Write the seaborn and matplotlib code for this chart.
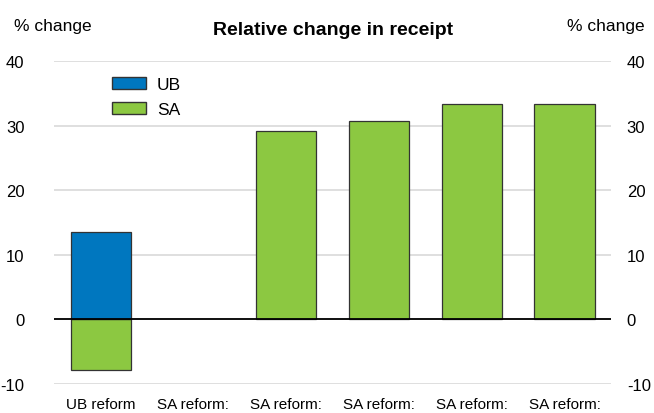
import pandas as pd
import numpy as np
import seaborn as sns
from matplotlib import pyplot as plt
from matplotlib.patches import Patch

# Data
categories = ['UB reform', 'SA reform: ', 'SA reform:  ', 'SA reform:   ', 'SA reform:    ', 'SA reform:     ']
tick_labels = ['UB reform', 'SA reform:', 'SA reform:', 'SA reform:', 'SA reform:', 'SA reform:']
ub_values = [13.5, 0, 0, 0, 0, 0]
sa_values = [-7.8, 0, 29.1, 30.7, 33.3, 33.3]

ub_color = '#0077BF'
sa_color = '#8CC841'

df = pd.DataFrame({'cat': categories, 'UB': ub_values, 'SA': sa_values})
# zero means no bar at all
df = df.replace(0, np.nan)

sns.set_style('white')
plt.rcParams['font.family'] = ['Liberation Sans', 'DejaVu Sans']
plt.rcParams['text.color'] = 'black'
plt.rcParams['xtick.color'] = 'black'
plt.rcParams['ytick.color'] = 'black'

fig = plt.figure(figsize=(6.54, 4.14), dpi=100)
ax = fig.add_axes([0.083, 0.07, 0.851, 0.78])

# bars: SA and UB share positions (stacked, signs never collide)
sns.barplot(x='cat', y='SA', data=df, color=sa_color, width=0.65, order=categories,
            edgecolor='#333333', linewidth=0.9, saturation=1, ax=ax)
sns.barplot(x='cat', y='UB', data=df, color=ub_color, width=0.65, order=categories,
            edgecolor='#333333', linewidth=0.9, saturation=1, ax=ax)

ax.set_ylim(-10, 40)
ax.set_xlim(-0.5, 5.5)
ax.set_yticks([-10, 0, 10, 20, 30, 40])
ax.set_yticklabels(['-10', '0', '10', '20', '30', '40'])
ax.yaxis.grid(True, color='#d9d9d9', linewidth=1.2)
ax.set_axisbelow(True)
ax.axhline(0, color='black', linewidth=1.3, zorder=5)
for s in ax.spines.values():
    s.set_visible(False)
ax.set_xticks(range(len(categories)))
ax.set_xticklabels(tick_labels, fontsize=11)
ax.set_xlabel('')
ax.set_ylabel('')

# right hand labels
ax2 = ax.twinx()
ax2.set_ylim(ax.get_ylim())
ax2.set_yticks([-10, 0, 10, 20, 30, 40])
ax2.set_yticklabels(['-10', '0', '10', '20', '30', '40'])
ax2.tick_params(axis='y', labelsize=12, right=False, pad=8)
for s in ax2.spines.values():
    s.set_visible(False)

ax.tick_params(axis='y', labelsize=12, left=False, right=False, pad=18)
ax.tick_params(axis='x', bottom=False, pad=6)

fig.text(0.022, 0.925, '% change', fontsize=12.5)
fig.text(0.985, 0.925, '% change', fontsize=12.5, ha='right')
fig.text(0.51, 0.915, 'Relative change in receipt', fontsize=14, fontweight='bold', ha='center')

handles = [Patch(facecolor=ub_color, edgecolor='#333333', label='UB'),
           Patch(facecolor=sa_color, edgecolor='#333333', label='SA')]
ax.legend(handles=handles, loc='upper left', bbox_to_anchor=(0.075, 1.0), frameon=False,
          fontsize=12.5, handlelength=2.0, handleheight=0.75, labelspacing=0.55, handletextpad=0.6)

plt.savefig('out.png', dpi=100)
